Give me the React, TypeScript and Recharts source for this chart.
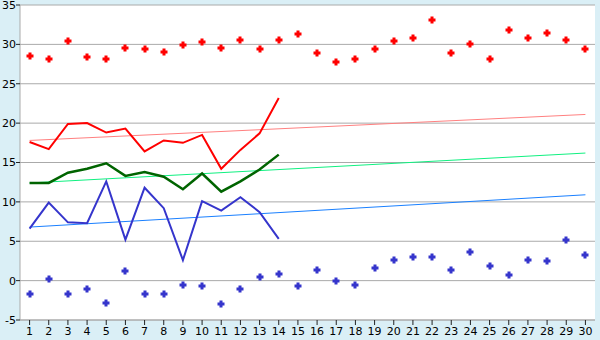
import { ComposedChart, Line, XAxis, YAxis, CartesianGrid } from 'recharts'

const days = ['1', '2', '3', '4', '5', '6', '7', '8', '9', '10', '11', '12', '13', '14', '15',
  '16', '17', '18', '19', '20', '21', '22', '23', '24', '25', '26', '27', '28', '29', '30']

const recordMax = [28.5, 28.2, 30.4, 28.4, 28.1, 29.6, 29.4, 29.0, 29.9, 30.3, 29.5, 30.6, 29.4, 30.6, 31.3,
  28.9, 27.8, 28.1, 29.4, 30.4, 30.8, 33.1, 28.9, 30.0, 28.1, 31.8, 30.8, 31.5, 30.5, 29.4]
const recordMin = [-1.7, 0.2, -1.7, -1.1, -2.8, 1.2, -1.7, -1.7, -0.5, -0.7, -3.0, -1.0, 0.4, 0.9, -0.7,
  1.3, -0.1, -0.5, 1.6, 2.6, 3.0, 3.0, 1.3, 3.6, 1.9, 0.7, 2.6, 2.5, 5.1, 3.2]

const maxTemp = [17.6, 16.7, 19.9, 20.0, 18.8, 19.3, 16.4, 17.8, 17.5, 18.5, 14.2, 16.6, 18.7, 23.2]
const avgTemp = [12.4, 12.4, 13.7, 14.2, 14.9, 13.3, 13.8, 13.2, 11.6, 13.6, 11.3, 12.6, 14.1, 16.0]
const minTemp = [6.6, 9.9, 7.4, 7.3, 12.6, 5.2, 11.8, 9.2, 2.6, 10.1, 8.9, 10.6, 8.7, 5.3]

// trend lines: value on the first and the last day
const trendMax = [17.8, 21.1]
const trendAvg = [12.4, 16.2]
const trendMin = [6.8, 10.9]

const yTicks = [-5, 0, 5, 10, 15, 20, 25, 30, 35]

const data = days.map((d, i) => ({
  day: d,
  recMax: recordMax[i],
  recMin: recordMin[i],
  max: maxTemp[i],
  avg: avgTemp[i],
  min: minTemp[i],
  tMax: i === 0 ? trendMax[0] : i === days.length - 1 ? trendMax[1] : null,
  tAvg: i === 0 ? trendAvg[0] : i === days.length - 1 ? trendAvg[1] : null,
  tMin: i === 0 ? trendMin[0] : i === days.length - 1 ? trendMin[1] : null,
}))

function Marker({ cx, cy, fill }: { cx?: number; cy?: number; fill: string }) {
  if (cx == null || cy == null || Number.isNaN(cy)) return null
  const x = Math.round(cx)
  const y = Math.round(cy)
  const pts = [
    [x - 1.5, y - 3.5], [x + 1.5, y - 3.5], [x + 1.5, y - 1.5], [x + 3.5, y - 1.5],
    [x + 3.5, y + 1.5], [x + 1.5, y + 1.5], [x + 1.5, y + 3.5], [x - 1.5, y + 3.5],
    [x - 1.5, y + 1.5], [x - 3.5, y + 1.5], [x - 3.5, y - 1.5], [x - 1.5, y - 1.5],
  ].map((p) => p.join(',')).join(' ')
  return <polygon points={pts} fill={fill} />
}

const tickStyle = { fill: '#000', fontSize: 11, fontFamily: 'DejaVu Sans, Verdana, sans-serif' }

export default function App() {
  return (
    <div style={{ position: 'absolute', left: 0, top: 0, width: 600, height: 340, background: '#daeff6' }}>
      <ComposedChart width={600} height={340} data={data} margin={{ top: 5, right: 5, bottom: 0, left: 0 }}>
        <CartesianGrid vertical={false} stroke="#aaaaaa" fill="#ffffff" />
        <XAxis
          dataKey="day"
          scale="point"
          padding={{ left: 9.58, right: 9.58 }}
          interval={0}
          height={20}
          tick={tickStyle}
          tickSize={5}
          tickMargin={2}
          stroke="#aaaaaa"
          tickLine={{ stroke: '#222' }}
        />
        <YAxis
          domain={[-5, 35]}
          ticks={yTicks}
          width={20}
          tick={tickStyle}
          tickSize={4}
          tickMargin={0}
          stroke="#aaaaaa"
          tickLine={{ stroke: '#222' }}
          interval={0}
        />
        <YAxis yAxisId="r" orientation="right" width={0} tick={false} tickLine={false} stroke="#aaaaaa" />
        <Line dataKey="tMax" stroke="#ff8080" strokeWidth={1} dot={false} activeDot={false} connectNulls isAnimationActive={false} />
        <Line dataKey="tAvg" stroke="#10f080" strokeWidth={1} dot={false} activeDot={false} connectNulls isAnimationActive={false} />
        <Line dataKey="tMin" stroke="#1a80ff" strokeWidth={1} dot={false} activeDot={false} connectNulls isAnimationActive={false} />
        <Line dataKey="max" type="linear" stroke="#ff0000" strokeWidth={2} dot={false} activeDot={false} isAnimationActive={false} />
        <Line dataKey="avg" type="linear" stroke="#006400" strokeWidth={2.5} dot={false} activeDot={false} isAnimationActive={false} />
        <Line dataKey="min" type="linear" stroke="#3535cc" strokeWidth={2} dot={false} activeDot={false} isAnimationActive={false} />
        <Line dataKey="recMax" stroke="none" dot={<Marker fill="#ff0000" />} activeDot={false} isAnimationActive={false} />
        <Line dataKey="recMin" stroke="none" dot={<Marker fill="#3535cc" />} activeDot={false} isAnimationActive={false} />
      </ComposedChart>
    </div>
  )
}
